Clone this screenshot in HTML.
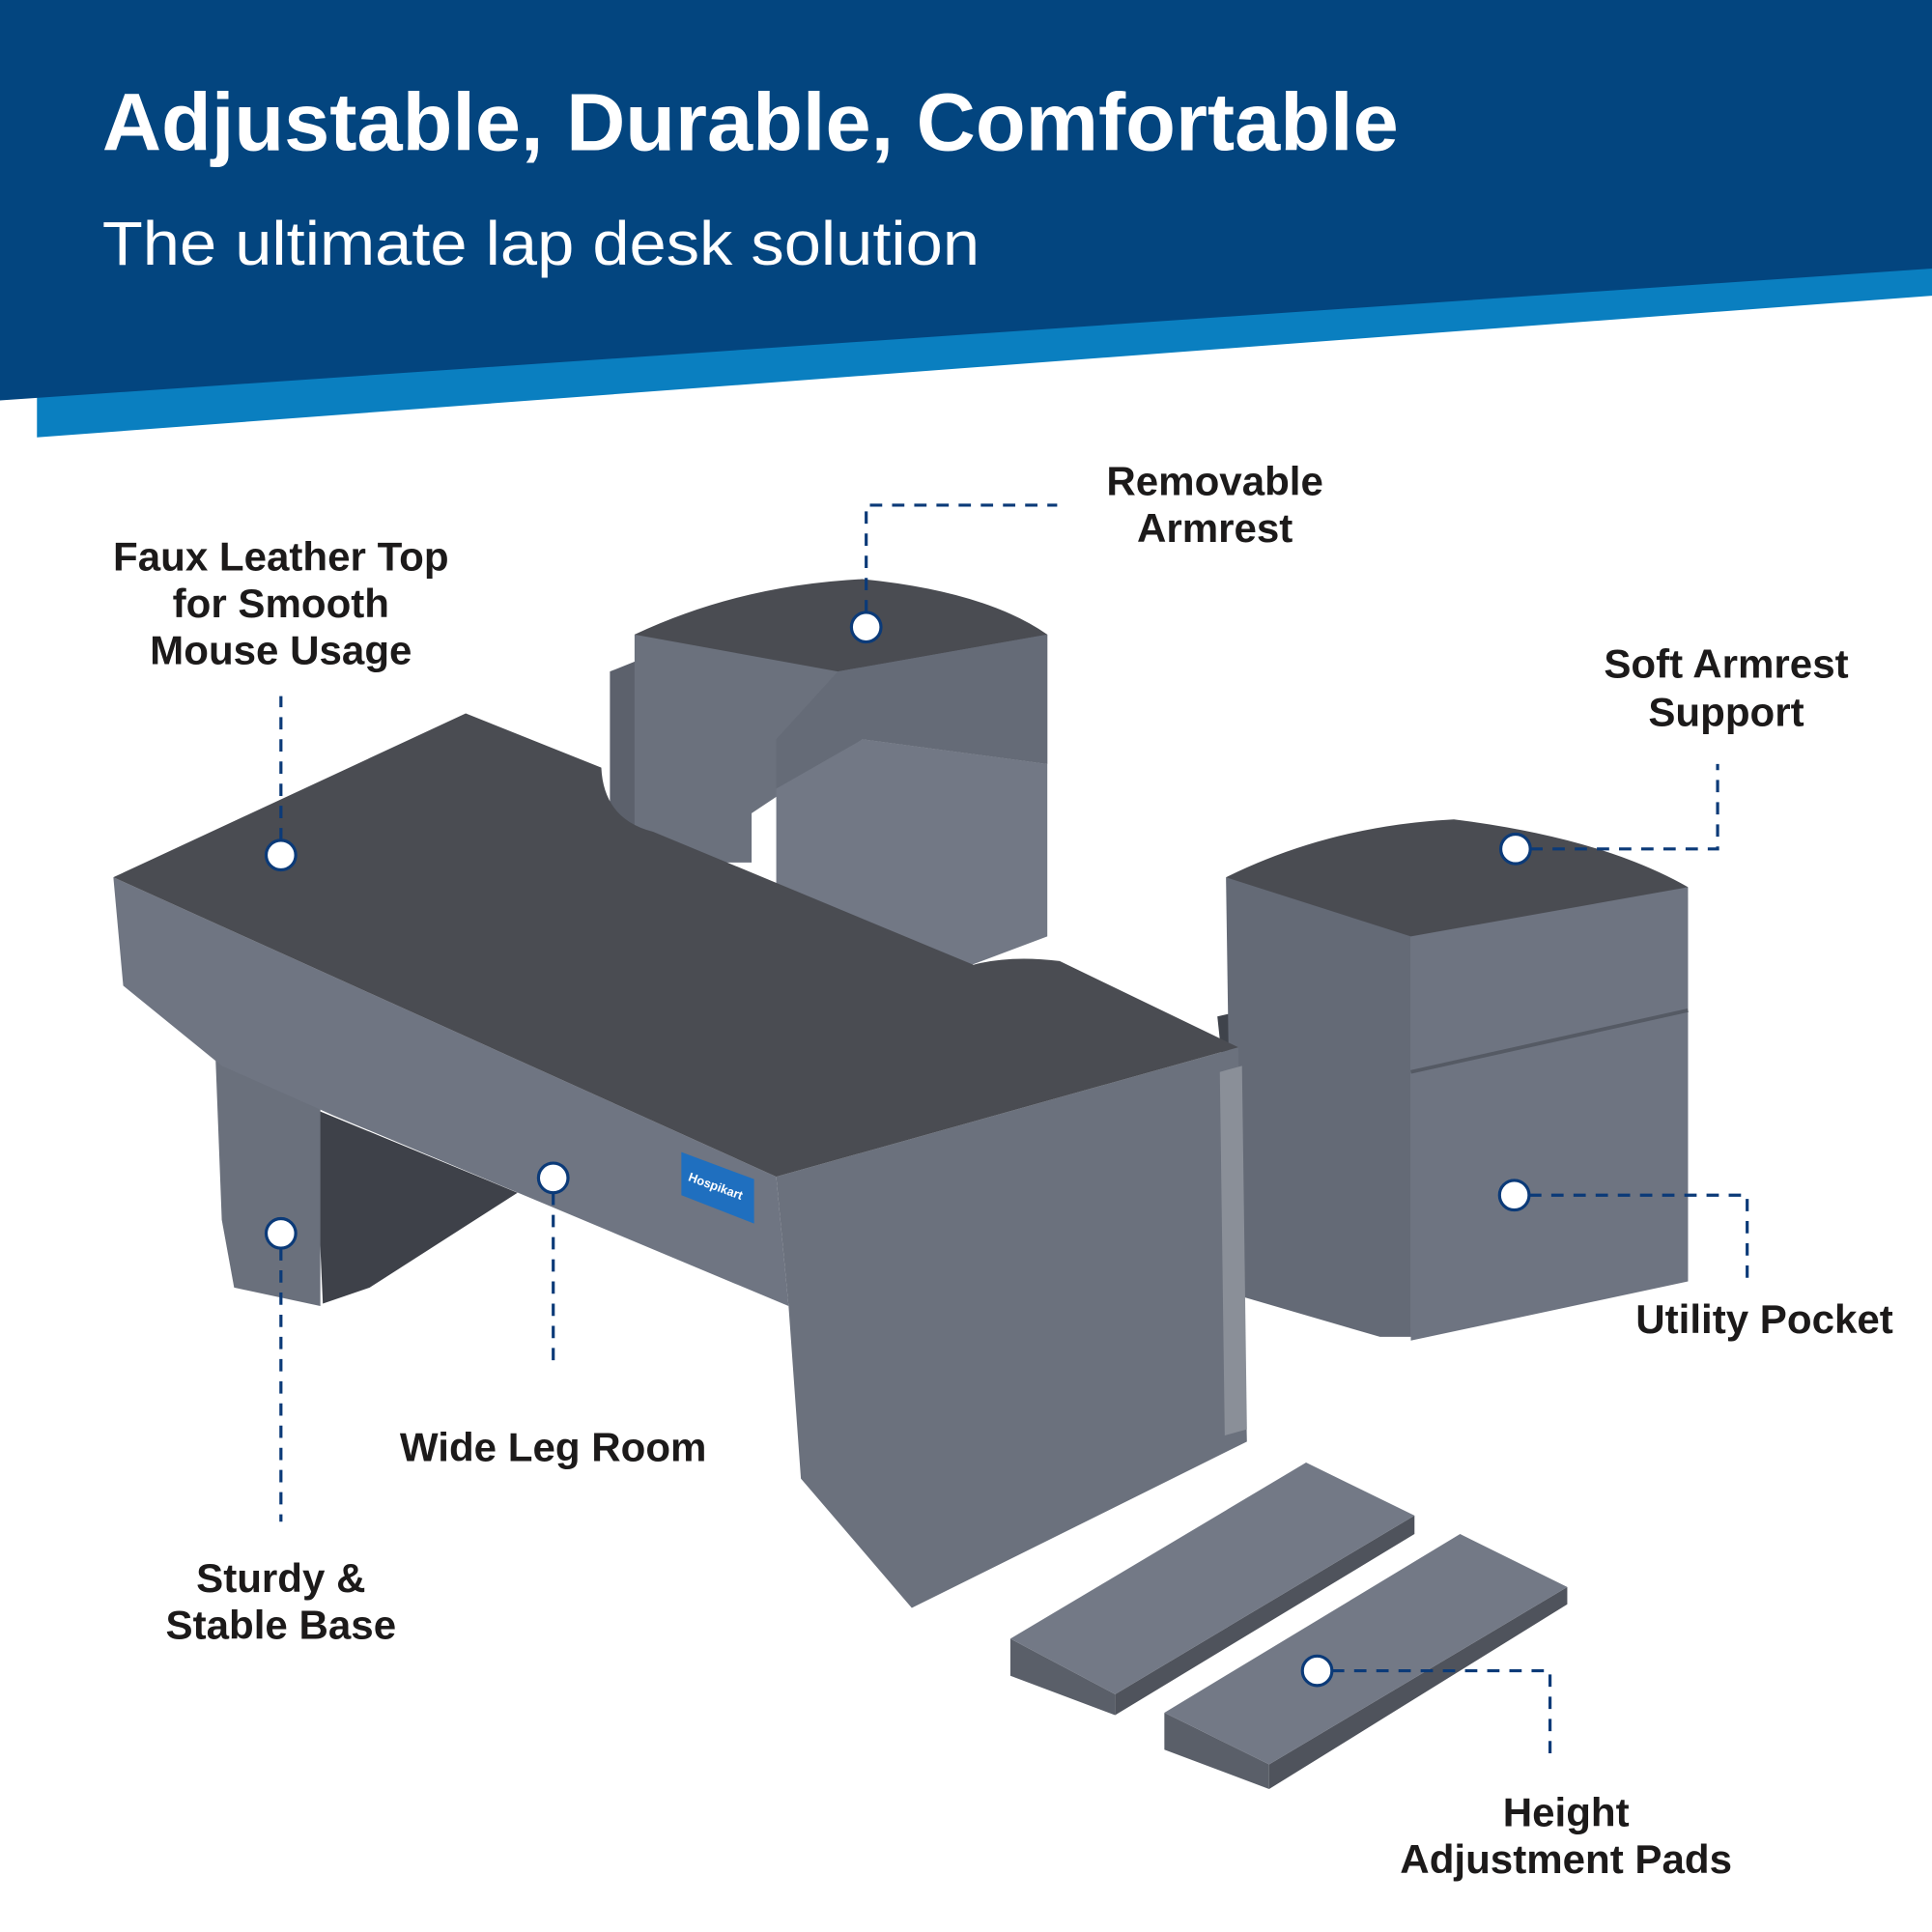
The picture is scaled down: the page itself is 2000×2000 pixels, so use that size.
<!DOCTYPE html>
<html><head><meta charset="utf-8"><style>html,body{margin:0;padding:0;background:#fff}svg{display:block}</style></head>
<body>
<svg width="2000" height="2000" viewBox="0 0 1568 1568" xmlns="http://www.w3.org/2000/svg" font-family="Liberation Sans, sans-serif">
<rect width="1568" height="1568" fill="#fff"/>
<polygon points="30,322 1568,216 1568,240 30,355" fill="#0a7fc0"/>
<polygon points="0,0 1568,0 1568,218 0,325" fill="#03457f"/>
<text x="83" y="122" font-size="66" font-weight="bold" fill="#fff" textLength="1052" lengthAdjust="spacingAndGlyphs">Adjustable, Durable, Comfortable</text>
<text x="83" y="215" font-size="50" fill="#fff" textLength="712" lengthAdjust="spacingAndGlyphs">The ultimate lap desk solution</text>

<!-- back armrest -->
<polygon points="495,545 520,535 520,670 495,690" fill="#5c616c"/>
<polygon points="515,515 515,700 610,700 610,660 700,600 850,620 850,515 700,470" fill="#6b717d"/>
<path d="M515,515 Q600,475 700,470 Q800,480 850,515 L680,545 Z" fill="#4a4c52"/>
<polygon points="630,640 700,600 850,620 850,760 770,790 630,760" fill="#727885"/>
<polygon points="680,545 850,515 850,620 700,600 630,640 630,600" fill="#656b77"/>

<!-- right armrest -->
<polygon points="988,825 1030,815 1030,1045 1012,1050" fill="#3f434b"/>
<polygon points="995,712 1145,745 1145,1085 1120,1085 1000,1050" fill="#646a76"/>
<polygon points="1145,745 1370,720 1370,1040 1145,1088" fill="#6e7481"/>
<path d="M995,712 Q1080,670 1180,665 Q1300,680 1370,720 L1145,760 Z" fill="#4a4c52"/>
<line x1="1145" y1="870" x2="1370" y2="820" stroke="#555a64" stroke-width="3"/>

<!-- main desk -->
<polygon points="255,900 420,968 300,1045 262,1058" fill="#3e4149"/>
<polygon points="175,860 260,900 260,1060 190,1045 180,990" fill="#6a707c"/>
<polygon points="92,712 630,955 640,1060 270,905 180,865 100,800" fill="#6f7582"/>
<polygon points="630,955 1005,850 1012,1170 740,1305 650,1200 640,1060" fill="#6b717d"/>
<polygon points="990,870 1008,865 1012,1160 994,1165" fill="#8a8f98"/>
<path d="M92,712 L378,579 L488,623 Q490,665 530,675 L790,783 Q820,775 860,780 L1005,850 L630,955 Z" fill="#4a4c52"/>
<polygon points="553,935 612,957 612,993 553,970" fill="#1f6fbf"/>
<text x="558" y="958" font-size="10" font-weight="bold" fill="#fff" transform="rotate(20 558 958)">Hospikart</text>

<!-- pads -->
<polygon points="820,1330 905,1375 905,1392 820,1360" fill="#5a5f69"/>
<polygon points="905,1375 1148,1230 1148,1245 905,1392" fill="#4f535c"/>
<polygon points="820,1330 1060,1187 1148,1230 905,1375" fill="#737986"/>
<polygon points="945,1390 1030,1432 1030,1452 945,1420" fill="#5a5f69"/>
<polygon points="1030,1432 1272,1288 1272,1302 1030,1452" fill="#4f535c"/>
<polygon points="945,1390 1185,1245 1272,1288 1030,1432" fill="#737986"/>

<!-- dashed connectors -->
<g stroke="#0b3a78" stroke-width="2.5" stroke-dasharray="10,8" fill="none">
<polyline points="703,497 703,410 858,410"/>
<polyline points="228,682 228,565"/>
<polyline points="1242,689 1394,689 1394,620"/>
<polyline points="449,968 449,1112"/>
<polyline points="228,1013 228,1235"/>
<polyline points="1241,970 1418,970 1418,1045"/>
<polyline points="1081,1356 1258,1356 1258,1425"/>
</g>
<g fill="#fff" stroke="#0b3a78" stroke-width="2.5">
<circle cx="703" cy="509" r="12"/><circle cx="228" cy="694" r="12"/><circle cx="1230" cy="689" r="12"/>
<circle cx="449" cy="956" r="12"/><circle cx="228" cy="1001" r="12"/><circle cx="1229" cy="970" r="12"/><circle cx="1069" cy="1356" r="12"/>
</g>

<g font-size="33" font-weight="bold" fill="#1c1a1a" text-anchor="middle">
<text x="986" y="402">Removable</text><text x="986" y="440">Armrest</text>
<text x="228" y="463">Faux Leather Top</text><text x="228" y="501">for Smooth</text><text x="228" y="539">Mouse Usage</text>
<text x="1401" y="550">Soft Armrest</text><text x="1401" y="589">Support</text>
<text x="1432" y="1082">Utility Pocket</text>
<text x="449" y="1186">Wide Leg Room</text>
<text x="228" y="1292">Sturdy &amp;</text><text x="228" y="1330">Stable Base</text>
<text x="1271" y="1482">Height</text><text x="1271" y="1520">Adjustment Pads</text>
</g>
</svg>
</body></html>
